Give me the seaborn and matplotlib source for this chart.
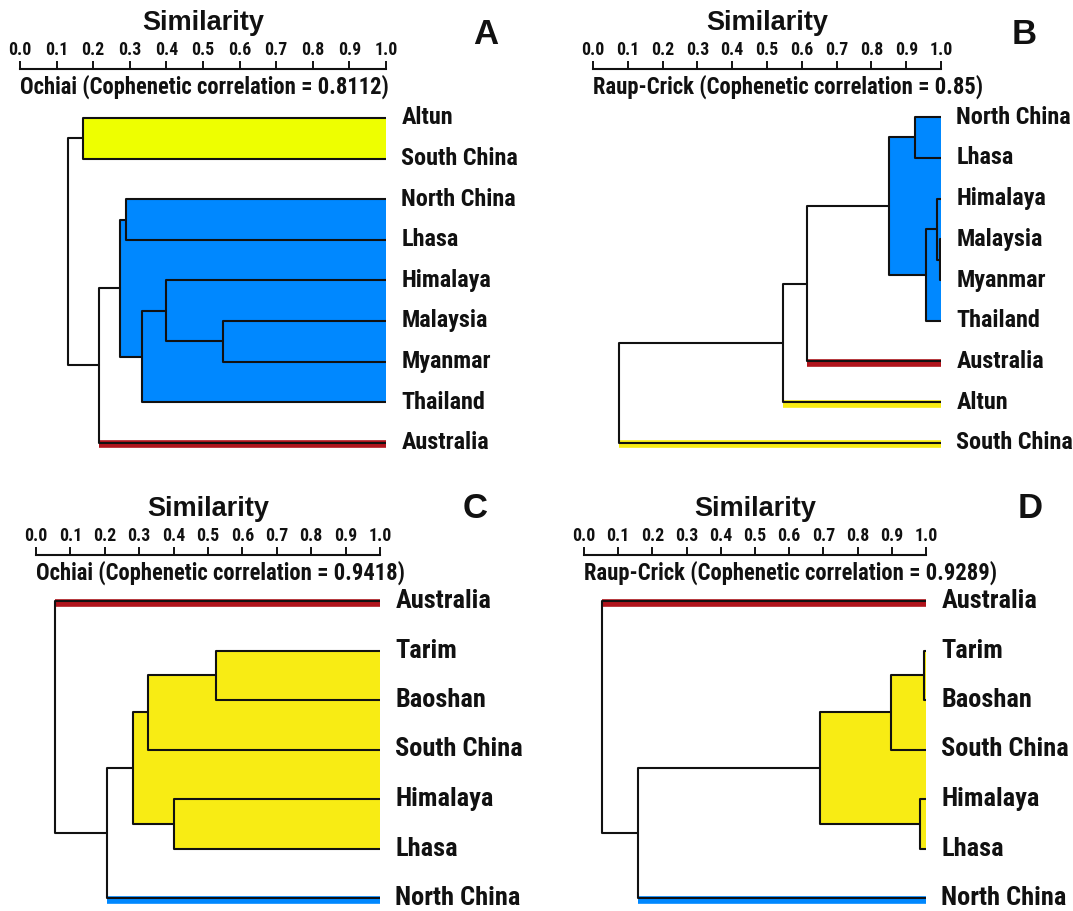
import numpy as np
import pandas as pd
import matplotlib
matplotlib.use("Agg")
import matplotlib.pyplot as plt
import seaborn as sns
from matplotlib import font_manager

# ---- data -------------------------------------------------------------
# merges: (child_a, child_b, similarity); leaves are 0..n-1, new nodes n, n+1, ...
leaves_a = ["Altun", "South China", "North China", "Lhasa", "Himalaya",
            "Malaysia", "Myanmar", "Thailand", "Australia"]
merges_a = [(0, 1, 0.173), (5, 6, 0.555), (4, 10, 0.399), (11, 7, 0.333),
            (2, 3, 0.290), (13, 12, 0.272), (14, 8, 0.216), (9, 15, 0.132)]
groups_a = [(["Altun", "South China"], "#EEFF00"),
            (["North China", "Lhasa", "Himalaya", "Malaysia", "Myanmar", "Thailand"], "#0088FF"),
            (["Australia"], "#B0141C")]

leaves_b = ["North China", "Lhasa", "Himalaya", "Malaysia", "Myanmar",
            "Thailand", "Australia", "Altun", "South China"]
merges_b = [(0, 1, 0.926), (3, 4, 0.997), (2, 10, 0.989), (11, 5, 0.956),
            (9, 12, 0.851), (13, 6, 0.615), (14, 7, 0.546), (15, 8, 0.076)]
groups_b = [(["North China", "Lhasa", "Himalaya", "Malaysia", "Myanmar", "Thailand"], "#0088FF"),
            (["Australia"], "#B0141C"),
            (["Altun"], "#F8EC14"),
            (["South China"], "#F8EC14")]

leaves_c = ["Australia", "Tarim", "Baoshan", "South China", "Himalaya",
            "Lhasa", "North China"]
merges_c = [(1, 2, 0.524), (7, 3, 0.326), (4, 5, 0.401), (8, 9, 0.282),
            (10, 6, 0.207), (0, 11, 0.055)]
groups_c = [(["Australia"], "#B0141C"),
            (["Tarim", "Baoshan", "South China", "Himalaya", "Lhasa"], "#F8EC14"),
            (["North China"], "#0088FF")]

leaves_d = ["Australia", "Tarim", "Baoshan", "South China", "Himalaya",
            "Lhasa", "North China"]
merges_d = [(1, 2, 0.995), (7, 3, 0.897), (4, 5, 0.983), (8, 9, 0.690),
            (10, 6, 0.159), (0, 11, 0.054)]
groups_d = groups_c

subtitles = ["Ochiai (Cophenetic correlation = 0.8112)",
             "Raup-Crick (Cophenetic correlation = 0.85)",
             "Ochiai (Cophenetic correlation = 0.9418)",
             "Raup-Crick (Cophenetic correlation = 0.9289)"]
letters = ["A", "B", "C", "D"]
ticks = np.round(np.arange(0, 1.01, 0.1), 1)

# ---- layout (pixels) ----------------------------------------------------
W, H = 1073, 911
# x0, x1 (similarity 0 and 1), axis line y, first leaf y, leaf step, bottom y
geom = [(20, 386, 69, 118, 40.6, 470),
        (593, 941, 69, 117, 40.75, 470),
        (36, 380, 555, 601, 49.5, 905),
        (584, 926, 555, 601, 49.5, 905)]
letter_pos = [(486, 35), (1024, 35), (475, 508), (1030, 508)]

sns.set_style("white")
plt.rcParams["font.family"] = ["Liberation Sans", "DejaVu Sans"]


def pick_narrow():
    # look for a condensed bold sans; fall back to the regular family
    want = ["Liberation Sans Narrow", "Arial Narrow", "Roboto Condensed"]
    fonts = font_manager.fontManager.ttflist
    for w in want:
        for f in fonts:
            if f.name == w and f.weight in ("bold", 700) and f.style == "normal":
                return font_manager.FontProperties(fname=f.fname), 1.0
    return font_manager.FontProperties(family=["Liberation Sans", "DejaVu Sans"],
                                       weight="bold"), 0.86


narrow_fp, k = pick_narrow()


def fp(size):
    f = narrow_fp.copy()
    f.set_size(size)
    return f


def tree(leaves, merges):
    n = len(leaves)
    xs = [1.0] * n
    ys = [float(i) for i in range(n)]
    members = [{i} for i in range(n)]
    parent = {}
    rows = []
    for j, (a, b, s) in enumerate(merges):
        pts = [(xs[a], ys[a]), (s, ys[a]), (s, ys[b]), (xs[b], ys[b])]
        for p in pts:
            rows.append({"seg": j, "x": p[0], "y": p[1]})
        parent[a] = s
        parent[b] = s
        xs.append(s)
        ys.append((ys[a] + ys[b]) / 2)
        members.append(members[a] | members[b])
    return pd.DataFrame(rows), xs, ys, members, parent


fig = plt.figure(figsize=(W / 100, H / 100), dpi=100)

panels = [(leaves_a, merges_a, groups_a), (leaves_b, merges_b, groups_b),
          (leaves_c, merges_c, groups_c), (leaves_d, merges_d, groups_d)]

for p, (leaves, merges, groups) in enumerate(panels):
    x0, x1, ax_y, leaf0, step, bot = geom[p]
    ax = fig.add_axes([x0 / W, 1 - bot / H, (x1 - x0) / W, (bot - ax_y) / H])
    df, xs, ys, members, parent = tree(leaves, merges)
    n = len(leaves)

    # coloured clusters
    for names_g, col in groups:
        idx = {leaves.index(g) for g in names_g}
        if len(idx) == 1:
            i = idx.pop()
            ax.plot([parent[i], 1.0], [ys[i] + 0.035, ys[i] + 0.035], color=col,
                    lw=5.5, solid_capstyle="butt", zorder=1)
            continue
        for j, (a, b, s) in enumerate(merges):
            if members[n + j] <= idx:
                ax.fill_betweenx([ys[a], ys[b]], s, 1.0, color=col, lw=0, zorder=1)

    sns.lineplot(data=df, x="x", y="y", units="seg", estimator=None, sort=False,
                 color="#111111", lw=1.5, ax=ax, legend=False, zorder=3)

    for i, name in enumerate(leaves):
        ax.annotate(name, (1.0, ys[i]), xytext=(11, 0), textcoords="offset points",
                    va="center", ha="left",
                    fontproperties=fp((17.4 if n > 7 else 19) * k),
                    annotation_clip=False, color="#111111")

    ax.set_xlim(0, 1)
    ax.set_ylim((bot - leaf0) / step, (ax_y - leaf0) / step)
    ax.set(xlabel="", ylabel="")
    ax.set_yticks([])
    ax.xaxis.tick_top()
    ax.set_xticks(ticks)
    ax.set_xticklabels([f"{t:.1f}" for t in ticks], fontproperties=fp(12.8 * k),
                       color="#111111")
    ax.tick_params(axis="x", direction="out", length=5.5, width=1.4, pad=2,
                   color="#111111")
    for side in ["left", "right", "bottom"]:
        ax.spines[side].set_visible(False)
    ax.spines["top"].set_linewidth(1.5)
    ax.spines["top"].set_color("#111111")
    ax.patch.set_alpha(0)

    fig.text((x0 + x1) / 2 / W, 1 - (ax_y - 46) / H, "Similarity", ha="center",
             va="center", fontsize=19.5, fontweight="bold", color="#111111")
    fig.text(x0 / W, 1 - (ax_y + 18) / H, subtitles[p], ha="left", va="center",
             fontproperties=fp(16.3 * k * (0.985 if k < 1 else 1)), color="#111111")
    lx, ly = letter_pos[p]
    fig.text(lx / W, 1 - ly / H, letters[p], ha="center", va="center",
             fontsize=25, fontweight="bold", color="#111111")

fig.savefig("out.png", dpi=100)
